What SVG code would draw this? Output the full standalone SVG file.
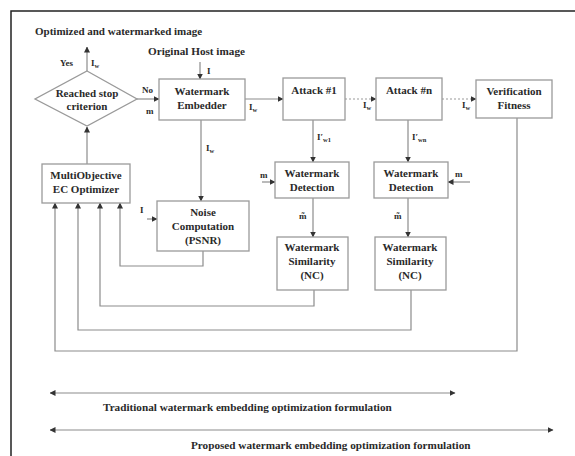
<svg xmlns="http://www.w3.org/2000/svg" width="575" height="456" viewBox="0 0 575 456">
<style>
  text { font-family: "Liberation Serif", "Times New Roman", serif; font-weight: bold; fill: #2a2a2a; }
  .t { font-size: 11px; text-anchor: middle; }
  .lbl { font-size: 9px; }
  .cap { font-size: 11.2px; }
  .sub { font-size: 6.5px; }
  .box { fill: #fff; stroke: #9a9a9a; stroke-width: 1.3; }
  .c { fill: none; stroke: #8c8c8c; stroke-width: 1.2; }
  .d { fill: none; stroke: #9a9a9a; stroke-width: 1.2; stroke-dasharray: 2 2; }
  .frame { fill: none; stroke: #222; stroke-width: 1.5; }
</style>
<defs>
  <marker id="ah" viewBox="0 0 6 6" refX="5.5" refY="3" markerWidth="6" markerHeight="6" markerUnits="userSpaceOnUse" orient="auto">
    <path d="M0,0 L6,3 L0,6 z" fill="#333"/>
  </marker>
  <marker id="as" viewBox="0 0 6 6" refX="0.5" refY="3" markerWidth="6" markerHeight="6" markerUnits="userSpaceOnUse" orient="auto">
    <path d="M6,0 L0,3 L6,6 z" fill="#333"/>
  </marker>
</defs>
<rect width="575" height="456" fill="#fff"/>
<path class="frame" d="M11,456 L11,11 L575,11"/>

<text class="cap" x="35" y="35" style="font-size:11px">Optimized and watermarked image</text>
<text class="cap" x="148" y="55">Original Host image</text>

<g id="connectors">
  <path class="c" d="M87,164 L87,127" marker-end="url(#ah)"/>
  <path class="c" d="M87,71 L87,47" marker-end="url(#ah)"/>
  <path class="c" d="M137,99 L159,99" marker-end="url(#ah)"/>
  <path class="c" d="M200,62 L200,79" marker-end="url(#ah)"/>
  <path class="c" d="M245,99 L283,99" marker-end="url(#ah)"/>
  <path class="c" d="M201,120 L201,201" marker-end="url(#ah)"/>
  <path class="c" d="M147,219 L157,219" marker-end="url(#ah)"/>
  <path class="c" d="M203,251 L203,266 L120,266 L120,203" marker-end="url(#ah)"/>
  <path class="d" d="M345,99 L376,99" marker-end="url(#ah)"/>
  <path class="d" d="M442,99 L476,99" marker-end="url(#ah)"/>
  <path class="c" d="M313,120 L313,162" marker-end="url(#ah)"/>
  <path class="c" d="M408,120 L408,162" marker-end="url(#ah)"/>
  <path class="c" d="M262,182 L275,182" marker-end="url(#ah)"/>
  <path class="c" d="M470,182 L448,182" marker-end="url(#ah)"/>
  <path class="c" d="M313,198 L313,237" marker-end="url(#ah)"/>
  <path class="c" d="M408,198 L408,237" marker-end="url(#ah)"/>
  <path class="c" d="M314,290 L314,306 L100,306 L100,203" marker-end="url(#ah)"/>
  <path class="c" d="M411,290 L411,330 L78,330 L78,203" marker-end="url(#ah)"/>
  <path class="c" d="M517,118 L517,351 L55,351 L55,203" marker-end="url(#ah)"/>
  <path class="c" d="M50,393 L455,393" marker-start="url(#as)" marker-end="url(#ah)"/>
  <path class="c" d="M50,430 L553,430" marker-start="url(#as)" marker-end="url(#ah)"/>
</g>

<g id="labels">
  <text class="lbl" x="60" y="66">Yes</text>
  <text class="lbl" x="91" y="66">I<tspan class="sub" dy="2">w</tspan></text>
  <text class="lbl" x="142" y="93">No</text>
  <text class="lbl" x="146" y="114">m</text>
  <text class="lbl" x="207" y="74">I</text>
  <text class="lbl" x="249" y="110">I<tspan class="sub" dy="2">w</tspan></text>
  <text class="lbl" x="206" y="151">I<tspan class="sub" dy="2">w</tspan></text>
  <text class="lbl" x="140" y="213">I</text>
  <text class="lbl" x="363" y="108">I<tspan class="sub" dy="2">w</tspan></text>
  <text class="lbl" x="462" y="108">I<tspan class="sub" dy="2">w</tspan></text>
  <text class="lbl" x="317" y="140">I′<tspan class="sub" dy="2">w1</tspan></text>
  <text class="lbl" x="412" y="140">I′<tspan class="sub" dy="2">wn</tspan></text>
  <text class="lbl" x="260" y="178">m</text>
  <text class="lbl" x="455" y="177">m</text>
  <text class="lbl" x="299" y="219">m̃</text>
  <text class="lbl" x="394" y="219">m̃</text>
  <text class="cap" x="103" y="411">Traditional watermark embedding optimization formulation</text>
  <text class="cap" x="191" y="449">Proposed watermark embedding optimization formulation</text>
</g>

<g id="stop-criterion">
  <path class="box" d="M87,71 L137,99 L87,126 L35,99 z"/>
  <text class="t" x="87" y="97">Reached stop</text>
  <text class="t" x="87" y="110">criterion</text>
</g>
<g id="embedder">
  <rect class="box" x="159" y="79" width="86" height="41"/>
  <text class="t" x="202" y="95">Watermark</text>
  <text class="t" x="202" y="109">Embedder</text>
</g>
<g id="attack1">
  <rect class="box" x="283" y="78" width="62" height="42"/>
  <text class="t" x="314" y="94">Attack #1</text>
</g>
<g id="attackn">
  <rect class="box" x="376" y="78" width="66" height="42"/>
  <text class="t" x="409" y="94">Attack #n</text>
</g>
<g id="verification">
  <rect class="box" x="476" y="80" width="76" height="38"/>
  <text class="t" x="514" y="95">Verification</text>
  <text class="t" x="514" y="109">Fitness</text>
</g>
<g id="optimizer">
  <rect class="box" x="42" y="164" width="88" height="39"/>
  <text class="t" x="86" y="179">MultiObjective</text>
  <text class="t" x="86" y="193">EC Optimizer</text>
</g>
<g id="noise">
  <rect class="box" x="157" y="201" width="92" height="50"/>
  <text class="t" x="203" y="216">Noise</text>
  <text class="t" x="203" y="230">Computation</text>
  <text class="t" x="203" y="244">(PSNR)</text>
</g>
<g id="detection1">
  <rect class="box" x="275" y="162" width="74" height="36"/>
  <text class="t" x="312" y="177">Watermark</text>
  <text class="t" x="312" y="191">Detection</text>
</g>
<g id="detection2">
  <rect class="box" x="374" y="162" width="74" height="36"/>
  <text class="t" x="411" y="177">Watermark</text>
  <text class="t" x="411" y="191">Detection</text>
</g>
<g id="similarity1">
  <rect class="box" x="277" y="237" width="71" height="53"/>
  <text class="t" x="312" y="251">Watermark</text>
  <text class="t" x="312" y="265">Similarity</text>
  <text class="t" x="312" y="279">(NC)</text>
</g>
<g id="similarity2">
  <rect class="box" x="375" y="237" width="71" height="53"/>
  <text class="t" x="410" y="251">Watermark</text>
  <text class="t" x="410" y="265">Similarity</text>
  <text class="t" x="410" y="279">(NC)</text>
</g>
</svg>
